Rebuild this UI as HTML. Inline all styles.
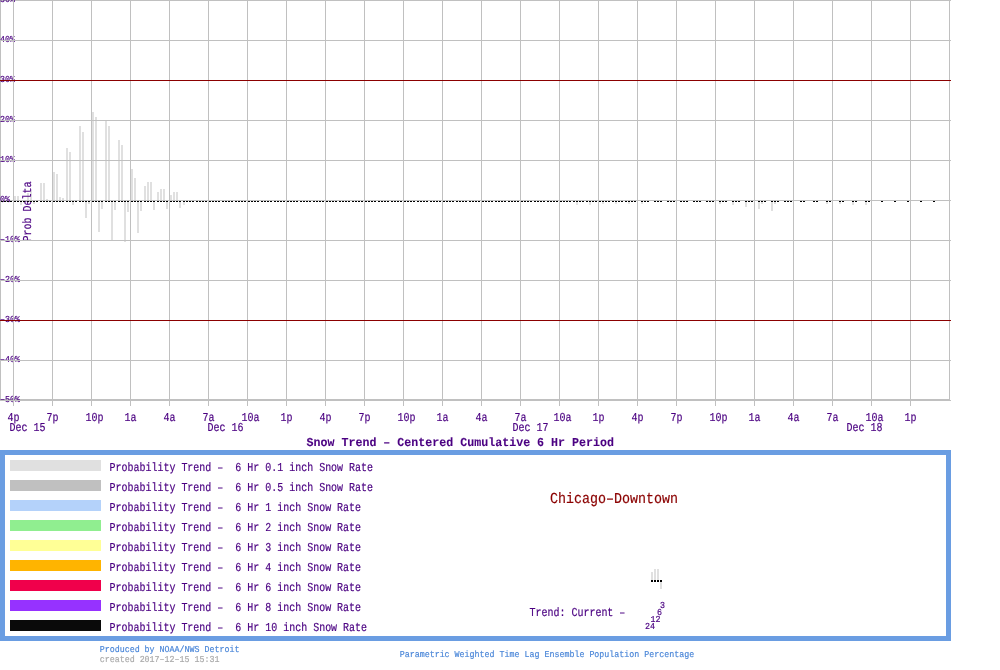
<!DOCTYPE html>
<html><head><meta charset="utf-8"><title>Snow Trend</title>
<style>
html,body{margin:0;padding:0;background:#fff;overflow:hidden}
body{width:1000px;height:670px;position:relative}
svg{position:absolute;left:0;top:0;display:block;will-change:transform}
text{font-family:"Liberation Mono",monospace;white-space:pre;text-rendering:geometricPrecision}
</style></head><body>
<svg width="1000" height="670" viewBox="0 0 1000 670">
<g shape-rendering="crispEdges">
<rect x="14" y="196" width="2" height="4" fill="#e0e0e0"/>
<rect x="17" y="196" width="2" height="4" fill="#e0e0e0"/>
<rect x="27" y="193" width="2" height="7" fill="#e0e0e0"/>
<rect x="30" y="191" width="2" height="9" fill="#e0e0e0"/>
<rect x="40" y="183" width="2" height="17" fill="#e0e0e0"/>
<rect x="43" y="183" width="2" height="17" fill="#e0e0e0"/>
<rect x="46" y="199" width="2" height="1" fill="#e0e0e0"/>
<rect x="53" y="172" width="2" height="28" fill="#e0e0e0"/>
<rect x="56" y="174" width="2" height="26" fill="#e0e0e0"/>
<rect x="59" y="197" width="2" height="3" fill="#e0e0e0"/>
<rect x="62" y="198" width="2" height="2" fill="#e0e0e0"/>
<rect x="66" y="148" width="2" height="52" fill="#e0e0e0"/>
<rect x="69" y="152" width="2" height="48" fill="#e0e0e0"/>
<rect x="79" y="126" width="2" height="74" fill="#e0e0e0"/>
<rect x="82" y="132" width="2" height="68" fill="#e0e0e0"/>
<rect x="92" y="112" width="2" height="88" fill="#e0e0e0"/>
<rect x="95" y="117" width="2" height="83" fill="#e0e0e0"/>
<rect x="105" y="121" width="2" height="79" fill="#e0e0e0"/>
<rect x="108" y="126" width="2" height="74" fill="#e0e0e0"/>
<rect x="118" y="140" width="2" height="60" fill="#e0e0e0"/>
<rect x="121" y="145" width="2" height="55" fill="#e0e0e0"/>
<rect x="131" y="169" width="2" height="31" fill="#e0e0e0"/>
<rect x="134" y="178" width="2" height="22" fill="#e0e0e0"/>
<rect x="144" y="186" width="2" height="14" fill="#e0e0e0"/>
<rect x="147" y="182" width="2" height="18" fill="#e0e0e0"/>
<rect x="150" y="182" width="2" height="18" fill="#e0e0e0"/>
<rect x="157" y="192" width="2" height="8" fill="#e0e0e0"/>
<rect x="160" y="189" width="2" height="11" fill="#e0e0e0"/>
<rect x="163" y="189" width="2" height="11" fill="#e0e0e0"/>
<rect x="170" y="195" width="2" height="5" fill="#e0e0e0"/>
<rect x="173" y="192" width="2" height="8" fill="#e0e0e0"/>
<rect x="176" y="192" width="2" height="8" fill="#e0e0e0"/>
<rect x="20" y="202" width="2" height="3" fill="#e0e0e0"/>
<rect x="33" y="202" width="2" height="2" fill="#e0e0e0"/>
<rect x="72" y="202" width="2" height="3" fill="#e0e0e0"/>
<rect x="85" y="202" width="2" height="16" fill="#e0e0e0"/>
<rect x="88" y="202" width="2" height="2" fill="#e0e0e0"/>
<rect x="98" y="202" width="2" height="30" fill="#e0e0e0"/>
<rect x="101" y="202" width="2" height="7" fill="#e0e0e0"/>
<rect x="111" y="202" width="2" height="38" fill="#e0e0e0"/>
<rect x="114" y="202" width="2" height="8" fill="#e0e0e0"/>
<rect x="124" y="202" width="2" height="40" fill="#e0e0e0"/>
<rect x="127" y="202" width="2" height="10" fill="#e0e0e0"/>
<rect x="137" y="202" width="2" height="31" fill="#e0e0e0"/>
<rect x="140" y="202" width="2" height="9" fill="#e0e0e0"/>
<rect x="153" y="202" width="2" height="8" fill="#e0e0e0"/>
<rect x="166" y="202" width="2" height="7" fill="#e0e0e0"/>
<rect x="179" y="202" width="2" height="6" fill="#e0e0e0"/>
<rect x="719" y="202" width="2" height="2" fill="#e0e0e0"/>
<rect x="732" y="202" width="2" height="3" fill="#e0e0e0"/>
<rect x="745" y="202" width="2" height="5" fill="#e0e0e0"/>
<rect x="758" y="202" width="2" height="7" fill="#e0e0e0"/>
<rect x="761" y="202" width="2" height="2" fill="#e0e0e0"/>
<rect x="771" y="202" width="2" height="9" fill="#e0e0e0"/>
<rect x="774" y="202" width="2" height="2" fill="#e0e0e0"/>
<rect x="826" y="202" width="2" height="2" fill="#e0e0e0"/>
<rect x="839" y="202" width="2" height="2" fill="#e0e0e0"/>
<rect x="852" y="202" width="2" height="3" fill="#e0e0e0"/>
<rect x="865" y="202" width="2" height="3" fill="#e0e0e0"/>
<rect x="23" y="202" width="2" height="1" fill="#e6e6e6"/>
<rect x="183" y="202" width="2" height="3" fill="#e6e6e6"/>
<rect x="576" y="202" width="2" height="3" fill="#e6e6e6"/>
<rect x="589" y="202" width="2" height="3" fill="#e6e6e6"/>
<rect x="602" y="202" width="2" height="2" fill="#e6e6e6"/>
<rect x="615" y="202" width="2" height="2" fill="#e6e6e6"/>
<rect x="628" y="202" width="2" height="2" fill="#e6e6e6"/>
<rect x="641" y="202" width="2" height="2" fill="#e6e6e6"/>
<rect x="0" y="0" width="951" height="1" fill="#c0c0c0"/>
<rect x="0" y="399" width="950" height="1" fill="#c0c0c0"/>
<rect x="0" y="0" width="1" height="400" fill="#c0c0c0"/>
</g>
<g>
<text transform="translate(0,2) scale(0.9147,1)" font-size="9.109" fill="#4b0082" stroke="#4b0082" stroke-width="0.18">50%</text>
<text transform="translate(0,42) scale(0.9147,1)" font-size="9.109" fill="#4b0082" stroke="#4b0082" stroke-width="0.18">40%</text>
<text transform="translate(0,82) scale(0.9147,1)" font-size="9.109" fill="#4b0082" stroke="#4b0082" stroke-width="0.18">30%</text>
<text transform="translate(0,122) scale(0.9147,1)" font-size="9.109" fill="#4b0082" stroke="#4b0082" stroke-width="0.18">20%</text>
<text transform="translate(0,162) scale(0.9147,1)" font-size="9.109" fill="#4b0082" stroke="#4b0082" stroke-width="0.18">10%</text>
<text transform="translate(0,242) scale(0.9147,1)" font-size="9.109" fill="#4b0082" stroke="#4b0082" stroke-width="0.18">–10%</text>
<text transform="translate(0,282) scale(0.9147,1)" font-size="9.109" fill="#4b0082" stroke="#4b0082" stroke-width="0.18">–20%</text>
<text transform="translate(0,322) scale(0.9147,1)" font-size="9.109" fill="#4b0082" stroke="#4b0082" stroke-width="0.18">–30%</text>
<text transform="translate(0,362) scale(0.9147,1)" font-size="9.109" fill="#4b0082" stroke="#4b0082" stroke-width="0.18">–40%</text>
<text transform="translate(0,402) scale(0.9147,1)" font-size="9.109" fill="#4b0082" stroke="#4b0082" stroke-width="0.18">–50%</text>
<text transform="translate(30.5,241.5) rotate(-90) scale(0.8232,1)" font-size="12.145" fill="#4b0082" stroke="#4b0082" stroke-width="0.2">Prob Delta</text>
</g>
<g shape-rendering="crispEdges">
<rect x="0" y="40" width="951" height="1" fill="#c0c0c0"/>
<rect x="0" y="120" width="951" height="1" fill="#c0c0c0"/>
<rect x="0" y="160" width="951" height="1" fill="#c0c0c0"/>
<rect x="0" y="200" width="951" height="1" fill="#c0c0c0"/>
<rect x="0" y="240" width="951" height="1" fill="#c0c0c0"/>
<rect x="0" y="280" width="951" height="1" fill="#c0c0c0"/>
<rect x="0" y="360" width="951" height="1" fill="#c0c0c0"/>
<rect x="0" y="400" width="951" height="1" fill="#c0c0c0"/>
<rect x="13" y="0" width="1" height="406" fill="#c0c0c0"/>
<rect x="52" y="0" width="1" height="406" fill="#c0c0c0"/>
<rect x="91" y="0" width="1" height="406" fill="#c0c0c0"/>
<rect x="130" y="0" width="1" height="406" fill="#c0c0c0"/>
<rect x="169" y="0" width="1" height="406" fill="#c0c0c0"/>
<rect x="208" y="0" width="1" height="406" fill="#c0c0c0"/>
<rect x="247" y="0" width="1" height="406" fill="#c0c0c0"/>
<rect x="286" y="0" width="1" height="406" fill="#c0c0c0"/>
<rect x="325" y="0" width="1" height="406" fill="#c0c0c0"/>
<rect x="364" y="0" width="1" height="406" fill="#c0c0c0"/>
<rect x="403" y="0" width="1" height="406" fill="#c0c0c0"/>
<rect x="442" y="0" width="1" height="406" fill="#c0c0c0"/>
<rect x="481" y="0" width="1" height="406" fill="#c0c0c0"/>
<rect x="520" y="0" width="1" height="406" fill="#c0c0c0"/>
<rect x="559" y="0" width="1" height="406" fill="#c0c0c0"/>
<rect x="598" y="0" width="1" height="406" fill="#c0c0c0"/>
<rect x="637" y="0" width="1" height="406" fill="#c0c0c0"/>
<rect x="676" y="0" width="1" height="406" fill="#c0c0c0"/>
<rect x="715" y="0" width="1" height="406" fill="#c0c0c0"/>
<rect x="754" y="0" width="1" height="406" fill="#c0c0c0"/>
<rect x="793" y="0" width="1" height="406" fill="#c0c0c0"/>
<rect x="832" y="0" width="1" height="406" fill="#c0c0c0"/>
<rect x="871" y="0" width="1" height="406" fill="#c0c0c0"/>
<rect x="910" y="0" width="1" height="406" fill="#c0c0c0"/>
<rect x="949" y="0" width="1" height="400" fill="#c0c0c0"/>
<rect x="0" y="80" width="951" height="1" fill="#8b0000"/>
<rect x="0" y="320" width="951" height="1" fill="#8b0000"/>
</g>
<g>
<text transform="translate(0,202) scale(0.9147,1)" font-size="9.109" fill="#4b0082" stroke="#4b0082" stroke-width="0.18">0%</text>
</g>
<g shape-rendering="crispEdges">
<rect x="1" y="201" width="2" height="1" fill="#000"/>
<rect x="4" y="201" width="2" height="1" fill="#000"/>
<rect x="7" y="201" width="2" height="1" fill="#000"/>
<rect x="10" y="201" width="2" height="1" fill="#000"/>
<rect x="14" y="201" width="2" height="1" fill="#000"/>
<rect x="17" y="201" width="2" height="1" fill="#000"/>
<rect x="20" y="201" width="2" height="1" fill="#000"/>
<rect x="23" y="201" width="2" height="1" fill="#000"/>
<rect x="27" y="201" width="2" height="1" fill="#000"/>
<rect x="30" y="201" width="2" height="1" fill="#000"/>
<rect x="33" y="201" width="2" height="1" fill="#000"/>
<rect x="36" y="201" width="2" height="1" fill="#000"/>
<rect x="40" y="201" width="2" height="1" fill="#000"/>
<rect x="43" y="201" width="2" height="1" fill="#000"/>
<rect x="46" y="201" width="2" height="1" fill="#000"/>
<rect x="49" y="201" width="2" height="1" fill="#000"/>
<rect x="53" y="201" width="2" height="1" fill="#000"/>
<rect x="56" y="201" width="2" height="1" fill="#000"/>
<rect x="59" y="201" width="2" height="1" fill="#000"/>
<rect x="62" y="201" width="2" height="1" fill="#000"/>
<rect x="66" y="201" width="2" height="1" fill="#000"/>
<rect x="69" y="201" width="2" height="1" fill="#000"/>
<rect x="72" y="201" width="2" height="1" fill="#000"/>
<rect x="75" y="201" width="2" height="1" fill="#000"/>
<rect x="79" y="201" width="2" height="1" fill="#000"/>
<rect x="82" y="201" width="2" height="1" fill="#000"/>
<rect x="85" y="201" width="2" height="1" fill="#000"/>
<rect x="88" y="201" width="2" height="1" fill="#000"/>
<rect x="92" y="201" width="2" height="1" fill="#000"/>
<rect x="95" y="201" width="2" height="1" fill="#000"/>
<rect x="98" y="201" width="2" height="1" fill="#000"/>
<rect x="101" y="201" width="2" height="1" fill="#000"/>
<rect x="105" y="201" width="2" height="1" fill="#000"/>
<rect x="108" y="201" width="2" height="1" fill="#000"/>
<rect x="111" y="201" width="2" height="1" fill="#000"/>
<rect x="114" y="201" width="2" height="1" fill="#000"/>
<rect x="118" y="201" width="2" height="1" fill="#000"/>
<rect x="121" y="201" width="2" height="1" fill="#000"/>
<rect x="124" y="201" width="2" height="1" fill="#000"/>
<rect x="127" y="201" width="2" height="1" fill="#000"/>
<rect x="131" y="201" width="2" height="1" fill="#000"/>
<rect x="134" y="201" width="2" height="1" fill="#000"/>
<rect x="137" y="201" width="2" height="1" fill="#000"/>
<rect x="140" y="201" width="2" height="1" fill="#000"/>
<rect x="144" y="201" width="2" height="1" fill="#000"/>
<rect x="147" y="201" width="2" height="1" fill="#000"/>
<rect x="150" y="201" width="2" height="1" fill="#000"/>
<rect x="153" y="201" width="2" height="1" fill="#000"/>
<rect x="157" y="201" width="2" height="1" fill="#000"/>
<rect x="160" y="201" width="2" height="1" fill="#000"/>
<rect x="163" y="201" width="2" height="1" fill="#000"/>
<rect x="166" y="201" width="2" height="1" fill="#000"/>
<rect x="170" y="201" width="2" height="1" fill="#000"/>
<rect x="173" y="201" width="2" height="1" fill="#000"/>
<rect x="176" y="201" width="2" height="1" fill="#000"/>
<rect x="179" y="201" width="2" height="1" fill="#000"/>
<rect x="183" y="201" width="2" height="1" fill="#000"/>
<rect x="186" y="201" width="2" height="1" fill="#000"/>
<rect x="189" y="201" width="2" height="1" fill="#000"/>
<rect x="192" y="201" width="2" height="1" fill="#000"/>
<rect x="196" y="201" width="2" height="1" fill="#000"/>
<rect x="199" y="201" width="2" height="1" fill="#000"/>
<rect x="202" y="201" width="2" height="1" fill="#000"/>
<rect x="205" y="201" width="2" height="1" fill="#000"/>
<rect x="209" y="201" width="2" height="1" fill="#000"/>
<rect x="212" y="201" width="2" height="1" fill="#000"/>
<rect x="215" y="201" width="2" height="1" fill="#000"/>
<rect x="218" y="201" width="2" height="1" fill="#000"/>
<rect x="222" y="201" width="2" height="1" fill="#000"/>
<rect x="225" y="201" width="2" height="1" fill="#000"/>
<rect x="228" y="201" width="2" height="1" fill="#000"/>
<rect x="231" y="201" width="2" height="1" fill="#000"/>
<rect x="235" y="201" width="2" height="1" fill="#000"/>
<rect x="238" y="201" width="2" height="1" fill="#000"/>
<rect x="241" y="201" width="2" height="1" fill="#000"/>
<rect x="244" y="201" width="2" height="1" fill="#000"/>
<rect x="248" y="201" width="2" height="1" fill="#000"/>
<rect x="251" y="201" width="2" height="1" fill="#000"/>
<rect x="254" y="201" width="2" height="1" fill="#000"/>
<rect x="257" y="201" width="2" height="1" fill="#000"/>
<rect x="261" y="201" width="2" height="1" fill="#000"/>
<rect x="264" y="201" width="2" height="1" fill="#000"/>
<rect x="267" y="201" width="2" height="1" fill="#000"/>
<rect x="270" y="201" width="2" height="1" fill="#000"/>
<rect x="274" y="201" width="2" height="1" fill="#000"/>
<rect x="277" y="201" width="2" height="1" fill="#000"/>
<rect x="280" y="201" width="2" height="1" fill="#000"/>
<rect x="283" y="201" width="2" height="1" fill="#000"/>
<rect x="287" y="201" width="2" height="1" fill="#000"/>
<rect x="290" y="201" width="2" height="1" fill="#000"/>
<rect x="293" y="201" width="2" height="1" fill="#000"/>
<rect x="296" y="201" width="2" height="1" fill="#000"/>
<rect x="300" y="201" width="2" height="1" fill="#000"/>
<rect x="303" y="201" width="2" height="1" fill="#000"/>
<rect x="306" y="201" width="2" height="1" fill="#000"/>
<rect x="309" y="201" width="2" height="1" fill="#000"/>
<rect x="313" y="201" width="2" height="1" fill="#000"/>
<rect x="316" y="201" width="2" height="1" fill="#000"/>
<rect x="319" y="201" width="2" height="1" fill="#000"/>
<rect x="322" y="201" width="2" height="1" fill="#000"/>
<rect x="326" y="201" width="2" height="1" fill="#000"/>
<rect x="329" y="201" width="2" height="1" fill="#000"/>
<rect x="332" y="201" width="2" height="1" fill="#000"/>
<rect x="335" y="201" width="2" height="1" fill="#000"/>
<rect x="339" y="201" width="2" height="1" fill="#000"/>
<rect x="342" y="201" width="2" height="1" fill="#000"/>
<rect x="345" y="201" width="2" height="1" fill="#000"/>
<rect x="348" y="201" width="2" height="1" fill="#000"/>
<rect x="352" y="201" width="2" height="1" fill="#000"/>
<rect x="355" y="201" width="2" height="1" fill="#000"/>
<rect x="358" y="201" width="2" height="1" fill="#000"/>
<rect x="361" y="201" width="2" height="1" fill="#000"/>
<rect x="365" y="201" width="2" height="1" fill="#000"/>
<rect x="368" y="201" width="2" height="1" fill="#000"/>
<rect x="371" y="201" width="2" height="1" fill="#000"/>
<rect x="374" y="201" width="2" height="1" fill="#000"/>
<rect x="378" y="201" width="2" height="1" fill="#000"/>
<rect x="381" y="201" width="2" height="1" fill="#000"/>
<rect x="384" y="201" width="2" height="1" fill="#000"/>
<rect x="387" y="201" width="2" height="1" fill="#000"/>
<rect x="391" y="201" width="2" height="1" fill="#000"/>
<rect x="394" y="201" width="2" height="1" fill="#000"/>
<rect x="397" y="201" width="2" height="1" fill="#000"/>
<rect x="400" y="201" width="2" height="1" fill="#000"/>
<rect x="404" y="201" width="2" height="1" fill="#000"/>
<rect x="407" y="201" width="2" height="1" fill="#000"/>
<rect x="410" y="201" width="2" height="1" fill="#000"/>
<rect x="413" y="201" width="2" height="1" fill="#000"/>
<rect x="417" y="201" width="2" height="1" fill="#000"/>
<rect x="420" y="201" width="2" height="1" fill="#000"/>
<rect x="423" y="201" width="2" height="1" fill="#000"/>
<rect x="426" y="201" width="2" height="1" fill="#000"/>
<rect x="430" y="201" width="2" height="1" fill="#000"/>
<rect x="433" y="201" width="2" height="1" fill="#000"/>
<rect x="436" y="201" width="2" height="1" fill="#000"/>
<rect x="439" y="201" width="2" height="1" fill="#000"/>
<rect x="443" y="201" width="2" height="1" fill="#000"/>
<rect x="446" y="201" width="2" height="1" fill="#000"/>
<rect x="449" y="201" width="2" height="1" fill="#000"/>
<rect x="452" y="201" width="2" height="1" fill="#000"/>
<rect x="456" y="201" width="2" height="1" fill="#000"/>
<rect x="459" y="201" width="2" height="1" fill="#000"/>
<rect x="462" y="201" width="2" height="1" fill="#000"/>
<rect x="465" y="201" width="2" height="1" fill="#000"/>
<rect x="469" y="201" width="2" height="1" fill="#000"/>
<rect x="472" y="201" width="2" height="1" fill="#000"/>
<rect x="475" y="201" width="2" height="1" fill="#000"/>
<rect x="478" y="201" width="2" height="1" fill="#000"/>
<rect x="482" y="201" width="2" height="1" fill="#000"/>
<rect x="485" y="201" width="2" height="1" fill="#000"/>
<rect x="488" y="201" width="2" height="1" fill="#000"/>
<rect x="491" y="201" width="2" height="1" fill="#000"/>
<rect x="495" y="201" width="2" height="1" fill="#000"/>
<rect x="498" y="201" width="2" height="1" fill="#000"/>
<rect x="501" y="201" width="2" height="1" fill="#000"/>
<rect x="504" y="201" width="2" height="1" fill="#000"/>
<rect x="508" y="201" width="2" height="1" fill="#000"/>
<rect x="511" y="201" width="2" height="1" fill="#000"/>
<rect x="514" y="201" width="2" height="1" fill="#000"/>
<rect x="517" y="201" width="2" height="1" fill="#000"/>
<rect x="521" y="201" width="2" height="1" fill="#000"/>
<rect x="524" y="201" width="2" height="1" fill="#000"/>
<rect x="527" y="201" width="2" height="1" fill="#000"/>
<rect x="530" y="201" width="2" height="1" fill="#000"/>
<rect x="534" y="201" width="2" height="1" fill="#000"/>
<rect x="537" y="201" width="2" height="1" fill="#000"/>
<rect x="540" y="201" width="2" height="1" fill="#000"/>
<rect x="543" y="201" width="2" height="1" fill="#000"/>
<rect x="547" y="201" width="2" height="1" fill="#000"/>
<rect x="550" y="201" width="2" height="1" fill="#000"/>
<rect x="553" y="201" width="2" height="1" fill="#000"/>
<rect x="556" y="201" width="2" height="1" fill="#000"/>
<rect x="560" y="201" width="2" height="1" fill="#000"/>
<rect x="563" y="201" width="2" height="1" fill="#000"/>
<rect x="566" y="201" width="2" height="1" fill="#000"/>
<rect x="569" y="201" width="2" height="1" fill="#000"/>
<rect x="573" y="201" width="2" height="1" fill="#000"/>
<rect x="576" y="201" width="2" height="1" fill="#000"/>
<rect x="579" y="201" width="2" height="1" fill="#000"/>
<rect x="582" y="201" width="2" height="1" fill="#000"/>
<rect x="586" y="201" width="2" height="1" fill="#000"/>
<rect x="589" y="201" width="2" height="1" fill="#000"/>
<rect x="592" y="201" width="2" height="1" fill="#000"/>
<rect x="595" y="201" width="2" height="1" fill="#000"/>
<rect x="599" y="201" width="2" height="1" fill="#000"/>
<rect x="602" y="201" width="2" height="1" fill="#000"/>
<rect x="605" y="201" width="2" height="1" fill="#000"/>
<rect x="608" y="201" width="2" height="1" fill="#000"/>
<rect x="612" y="201" width="2" height="1" fill="#000"/>
<rect x="615" y="201" width="2" height="1" fill="#000"/>
<rect x="618" y="201" width="2" height="1" fill="#000"/>
<rect x="621" y="201" width="2" height="1" fill="#000"/>
<rect x="625" y="201" width="2" height="1" fill="#000"/>
<rect x="628" y="201" width="2" height="1" fill="#000"/>
<rect x="631" y="201" width="2" height="1" fill="#000"/>
<rect x="634" y="201" width="2" height="1" fill="#000"/>
<rect x="641" y="201" width="2" height="1" fill="#000"/>
<rect x="644" y="201" width="2" height="1" fill="#000"/>
<rect x="647" y="201" width="2" height="1" fill="#000"/>
<rect x="654" y="201" width="2" height="1" fill="#000"/>
<rect x="657" y="201" width="2" height="1" fill="#000"/>
<rect x="660" y="201" width="2" height="1" fill="#000"/>
<rect x="667" y="201" width="2" height="1" fill="#000"/>
<rect x="670" y="201" width="2" height="1" fill="#000"/>
<rect x="673" y="201" width="2" height="1" fill="#000"/>
<rect x="680" y="201" width="2" height="1" fill="#000"/>
<rect x="683" y="201" width="2" height="1" fill="#000"/>
<rect x="686" y="201" width="2" height="1" fill="#000"/>
<rect x="693" y="201" width="2" height="1" fill="#000"/>
<rect x="696" y="201" width="2" height="1" fill="#000"/>
<rect x="699" y="201" width="2" height="1" fill="#000"/>
<rect x="706" y="201" width="2" height="1" fill="#000"/>
<rect x="709" y="201" width="2" height="1" fill="#000"/>
<rect x="712" y="201" width="2" height="1" fill="#000"/>
<rect x="719" y="201" width="2" height="1" fill="#000"/>
<rect x="722" y="201" width="2" height="1" fill="#000"/>
<rect x="725" y="201" width="2" height="1" fill="#000"/>
<rect x="732" y="201" width="2" height="1" fill="#000"/>
<rect x="735" y="201" width="2" height="1" fill="#000"/>
<rect x="738" y="201" width="2" height="1" fill="#000"/>
<rect x="745" y="201" width="2" height="1" fill="#000"/>
<rect x="748" y="201" width="2" height="1" fill="#000"/>
<rect x="751" y="201" width="2" height="1" fill="#000"/>
<rect x="758" y="201" width="2" height="1" fill="#000"/>
<rect x="761" y="201" width="2" height="1" fill="#000"/>
<rect x="764" y="201" width="2" height="1" fill="#000"/>
<rect x="771" y="201" width="2" height="1" fill="#000"/>
<rect x="774" y="201" width="2" height="1" fill="#000"/>
<rect x="777" y="201" width="2" height="1" fill="#000"/>
<rect x="784" y="201" width="2" height="1" fill="#000"/>
<rect x="787" y="201" width="2" height="1" fill="#000"/>
<rect x="790" y="201" width="2" height="1" fill="#000"/>
<rect x="800" y="201" width="2" height="1" fill="#000"/>
<rect x="803" y="201" width="2" height="1" fill="#000"/>
<rect x="813" y="201" width="2" height="1" fill="#000"/>
<rect x="816" y="201" width="2" height="1" fill="#000"/>
<rect x="826" y="201" width="2" height="1" fill="#000"/>
<rect x="829" y="201" width="2" height="1" fill="#000"/>
<rect x="839" y="201" width="2" height="1" fill="#000"/>
<rect x="842" y="201" width="2" height="1" fill="#000"/>
<rect x="852" y="201" width="2" height="1" fill="#000"/>
<rect x="855" y="201" width="2" height="1" fill="#000"/>
<rect x="865" y="201" width="2" height="1" fill="#000"/>
<rect x="868" y="201" width="2" height="1" fill="#000"/>
<rect x="881" y="201" width="2" height="1" fill="#000"/>
<rect x="894" y="201" width="2" height="1" fill="#000"/>
<rect x="907" y="201" width="2" height="1" fill="#000"/>
<rect x="920" y="201" width="2" height="1" fill="#000"/>
<rect x="933" y="201" width="2" height="1" fill="#000"/>
<rect x="651" y="572" width="2" height="8" fill="#e0e0e0"/>
<rect x="654" y="569" width="2" height="11" fill="#e0e0e0"/>
<rect x="657" y="569" width="2" height="11" fill="#e0e0e0"/>
<rect x="660" y="582" width="2" height="7" fill="#e0e0e0"/>
<rect x="651" y="580" width="2" height="2" fill="#000"/>
<rect x="654" y="580" width="2" height="2" fill="#000"/>
<rect x="657" y="580" width="2" height="2" fill="#000"/>
<rect x="660" y="580" width="2" height="2" fill="#000"/>
<rect x="10" y="460" width="91" height="11" fill="#e0e0e0"/>
<rect x="10" y="480" width="91" height="11" fill="#c0c0c0"/>
<rect x="10" y="500" width="91" height="11" fill="#b4d2fa"/>
<rect x="10" y="520" width="91" height="11" fill="#90ee90"/>
<rect x="10" y="540" width="91" height="11" fill="#ffff96"/>
<rect x="10" y="560" width="91" height="11" fill="#ffb400"/>
<rect x="10" y="580" width="91" height="11" fill="#f0004b"/>
<rect x="10" y="600" width="91" height="11" fill="#9632ff"/>
<rect x="10" y="620" width="91" height="11" fill="#0a0a0a"/>
<rect x="0" y="450" width="951" height="5" fill="#6a9de2"/>
<rect x="0" y="636" width="951" height="5" fill="#6a9de2"/>
<rect x="0" y="450" width="5" height="191" fill="#6a9de2"/>
<rect x="946" y="450" width="5" height="191" fill="#6a9de2"/>
</g>
<g>
<text transform="translate(7.5,421) scale(0.8232,1)" font-size="12.145" fill="#4b0082" stroke="#4b0082" stroke-width="0.2">4p</text>
<text transform="translate(46.5,421) scale(0.8232,1)" font-size="12.145" fill="#4b0082" stroke="#4b0082" stroke-width="0.2">7p</text>
<text transform="translate(85.5,421) scale(0.8232,1)" font-size="12.145" fill="#4b0082" stroke="#4b0082" stroke-width="0.2">10p</text>
<text transform="translate(124.5,421) scale(0.8232,1)" font-size="12.145" fill="#4b0082" stroke="#4b0082" stroke-width="0.2">1a</text>
<text transform="translate(163.5,421) scale(0.8232,1)" font-size="12.145" fill="#4b0082" stroke="#4b0082" stroke-width="0.2">4a</text>
<text transform="translate(202.5,421) scale(0.8232,1)" font-size="12.145" fill="#4b0082" stroke="#4b0082" stroke-width="0.2">7a</text>
<text transform="translate(241.5,421) scale(0.8232,1)" font-size="12.145" fill="#4b0082" stroke="#4b0082" stroke-width="0.2">10a</text>
<text transform="translate(280.5,421) scale(0.8232,1)" font-size="12.145" fill="#4b0082" stroke="#4b0082" stroke-width="0.2">1p</text>
<text transform="translate(319.5,421) scale(0.8232,1)" font-size="12.145" fill="#4b0082" stroke="#4b0082" stroke-width="0.2">4p</text>
<text transform="translate(358.5,421) scale(0.8232,1)" font-size="12.145" fill="#4b0082" stroke="#4b0082" stroke-width="0.2">7p</text>
<text transform="translate(397.5,421) scale(0.8232,1)" font-size="12.145" fill="#4b0082" stroke="#4b0082" stroke-width="0.2">10p</text>
<text transform="translate(436.5,421) scale(0.8232,1)" font-size="12.145" fill="#4b0082" stroke="#4b0082" stroke-width="0.2">1a</text>
<text transform="translate(475.5,421) scale(0.8232,1)" font-size="12.145" fill="#4b0082" stroke="#4b0082" stroke-width="0.2">4a</text>
<text transform="translate(514.5,421) scale(0.8232,1)" font-size="12.145" fill="#4b0082" stroke="#4b0082" stroke-width="0.2">7a</text>
<text transform="translate(553.5,421) scale(0.8232,1)" font-size="12.145" fill="#4b0082" stroke="#4b0082" stroke-width="0.2">10a</text>
<text transform="translate(592.5,421) scale(0.8232,1)" font-size="12.145" fill="#4b0082" stroke="#4b0082" stroke-width="0.2">1p</text>
<text transform="translate(631.5,421) scale(0.8232,1)" font-size="12.145" fill="#4b0082" stroke="#4b0082" stroke-width="0.2">4p</text>
<text transform="translate(670.5,421) scale(0.8232,1)" font-size="12.145" fill="#4b0082" stroke="#4b0082" stroke-width="0.2">7p</text>
<text transform="translate(709.5,421) scale(0.8232,1)" font-size="12.145" fill="#4b0082" stroke="#4b0082" stroke-width="0.2">10p</text>
<text transform="translate(748.5,421) scale(0.8232,1)" font-size="12.145" fill="#4b0082" stroke="#4b0082" stroke-width="0.2">1a</text>
<text transform="translate(787.5,421) scale(0.8232,1)" font-size="12.145" fill="#4b0082" stroke="#4b0082" stroke-width="0.2">4a</text>
<text transform="translate(826.5,421) scale(0.8232,1)" font-size="12.145" fill="#4b0082" stroke="#4b0082" stroke-width="0.2">7a</text>
<text transform="translate(865.5,421) scale(0.8232,1)" font-size="12.145" fill="#4b0082" stroke="#4b0082" stroke-width="0.2">10a</text>
<text transform="translate(904.5,421) scale(0.8232,1)" font-size="12.145" fill="#4b0082" stroke="#4b0082" stroke-width="0.2">1p</text>
<text transform="translate(9.5,431) scale(0.8232,1)" font-size="12.145" fill="#4b0082" stroke="#4b0082" stroke-width="0.2">Dec 15</text>
<text transform="translate(207.5,431) scale(0.8232,1)" font-size="12.145" fill="#4b0082" stroke="#4b0082" stroke-width="0.2">Dec 16</text>
<text transform="translate(512.5,431) scale(0.8232,1)" font-size="12.145" fill="#4b0082" stroke="#4b0082" stroke-width="0.2">Dec 17</text>
<text transform="translate(846.5,431) scale(0.8232,1)" font-size="12.145" fill="#4b0082" stroke="#4b0082" stroke-width="0.2">Dec 18</text>
<text transform="translate(306.5,446) scale(0.9604,1)" font-size="12.145" fill="#4b0082" stroke="#4b0082" stroke-width="0.1" font-weight="bold">Snow Trend – Centered Cumulative 6 Hr Period</text>
<text transform="translate(109.5,471) scale(0.8232,1)" font-size="12.145" fill="#4b0082" stroke="#4b0082" stroke-width="0.2">Probability Trend –  6 Hr 0.1 inch Snow Rate</text>
<text transform="translate(109.5,491) scale(0.8232,1)" font-size="12.145" fill="#4b0082" stroke="#4b0082" stroke-width="0.2">Probability Trend –  6 Hr 0.5 inch Snow Rate</text>
<text transform="translate(109.5,511) scale(0.8232,1)" font-size="12.145" fill="#4b0082" stroke="#4b0082" stroke-width="0.2">Probability Trend –  6 Hr 1 inch Snow Rate</text>
<text transform="translate(109.5,531) scale(0.8232,1)" font-size="12.145" fill="#4b0082" stroke="#4b0082" stroke-width="0.2">Probability Trend –  6 Hr 2 inch Snow Rate</text>
<text transform="translate(109.5,551) scale(0.8232,1)" font-size="12.145" fill="#4b0082" stroke="#4b0082" stroke-width="0.2">Probability Trend –  6 Hr 3 inch Snow Rate</text>
<text transform="translate(109.5,571) scale(0.8232,1)" font-size="12.145" fill="#4b0082" stroke="#4b0082" stroke-width="0.2">Probability Trend –  6 Hr 4 inch Snow Rate</text>
<text transform="translate(109.5,591) scale(0.8232,1)" font-size="12.145" fill="#4b0082" stroke="#4b0082" stroke-width="0.2">Probability Trend –  6 Hr 6 inch Snow Rate</text>
<text transform="translate(109.5,611) scale(0.8232,1)" font-size="12.145" fill="#4b0082" stroke="#4b0082" stroke-width="0.2">Probability Trend –  6 Hr 8 inch Snow Rate</text>
<text transform="translate(109.5,631) scale(0.8232,1)" font-size="12.145" fill="#4b0082" stroke="#4b0082" stroke-width="0.2">Probability Trend –  6 Hr 10 inch Snow Rate</text>
<text transform="translate(550,503) scale(0.8781,1)" font-size="15.181" fill="#8b0000" stroke="#8b0000" stroke-width="0.2">Chicago–Downtown</text>
<text transform="translate(529.5,616) scale(0.8232,1)" font-size="12.145" fill="#4b0082" stroke="#4b0082" stroke-width="0.2">Trend: Current –</text>
<text transform="translate(660,608) scale(0.9147,1)" font-size="9.109" fill="#4b0082" stroke="#4b0082" stroke-width="0.18">3</text>
<text transform="translate(657,615) scale(0.9147,1)" font-size="9.109" fill="#4b0082" stroke="#4b0082" stroke-width="0.18">6</text>
<text transform="translate(650.5,622) scale(0.9147,1)" font-size="9.109" fill="#4b0082" stroke="#4b0082" stroke-width="0.18">12</text>
<text transform="translate(645,629) scale(0.9147,1)" font-size="9.109" fill="#4b0082" stroke="#4b0082" stroke-width="0.18">24</text>
<text transform="translate(99.7,652) scale(0.9147,1)" font-size="9.109" fill="#4a86d8" stroke="#4a86d8" stroke-width="0.18">Produced by NOAA/NWS Detroit</text>
<text transform="translate(99.7,662) scale(0.9147,1)" font-size="9.109" fill="#aaaaaa" stroke="#aaaaaa" stroke-width="0.18">created 2017–12–15 15:31</text>
<text transform="translate(399.7,657) scale(0.9147,1)" font-size="9.109" fill="#4a86d8" stroke="#4a86d8" stroke-width="0.18">Parametric Weighted Time Lag Ensemble Population Percentage</text>
</g>
</svg>
</body></html>
